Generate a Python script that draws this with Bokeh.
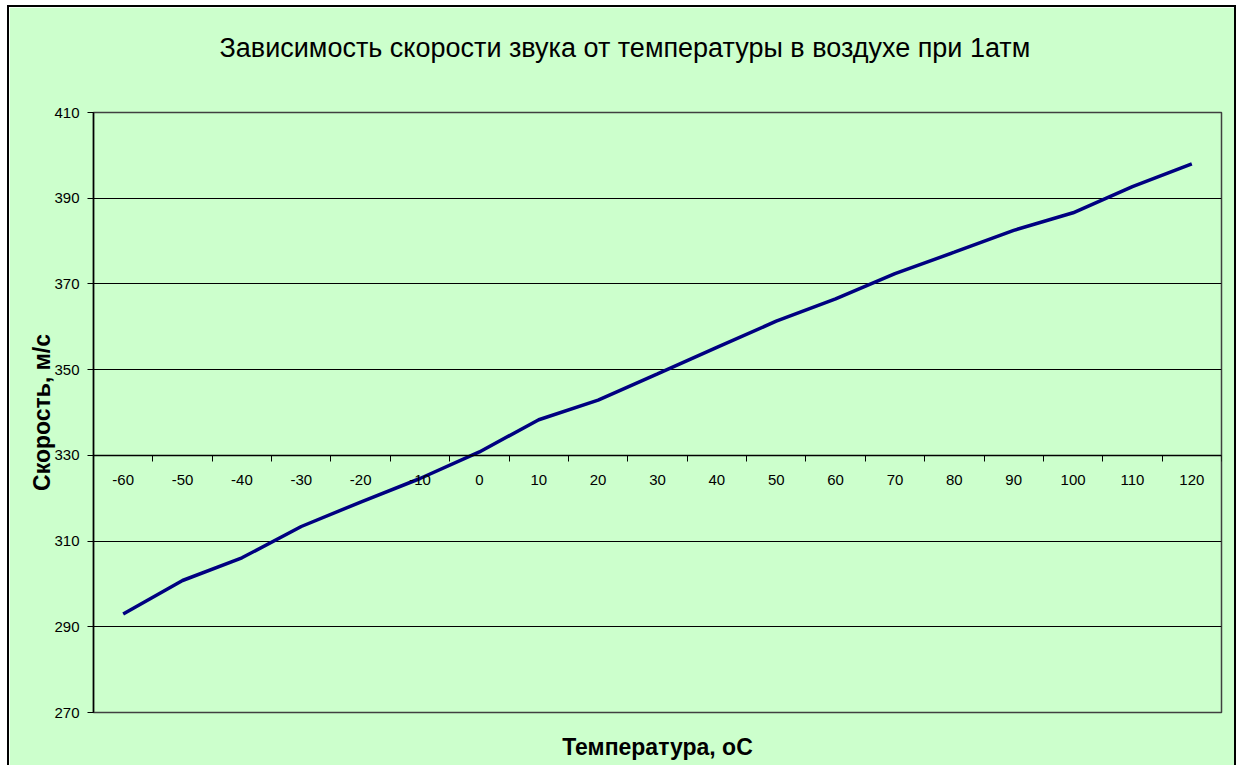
from bokeh.plotting import figure
from bokeh.models import Range1d, LinearAxis, FixedTicker, ColumnDataSource
from bokeh.embed import file_html
from bokeh.resources import INLINE

# ---- data ----
temperatures = [-60, -50, -40, -30, -20, -10, 0, 10, 20, 30, 40, 50, 60, 70, 80, 90, 100, 110, 120]
speed = [293.0, 300.8, 306.1, 313.4, 319.1, 324.6, 330.8, 338.3, 342.9, 349.0, 355.2,
         361.3, 366.5, 372.4, 377.4, 382.5, 386.6, 392.7, 398.0]
y_ticks = [270, 290, 310, 330, 350, 370, 390, 410]
title_text = "Зависимость скорости звука от температуры в воздухе при 1атм"
x_title = "Температура, оС"
y_title = "Скорость, м/с"

FONT = "Liberation Sans"
BG = "#CCFFCC"

n = len(temperatures)
pos = [i + 0.5 for i in range(n)]
src = ColumnDataSource(dict(x=pos, y=speed))

p = figure(width=1229, height=760, output_backend="svg", toolbar_location=None,
           x_range=Range1d(0, n), y_range=Range1d(270, 410),
           min_border_left=84, min_border_right=17, min_border_top=105, min_border_bottom=55,
           background_fill_color=BG, border_fill_color=BG)
p.styles = {"margin-left": "7px", "margin-top": "5px",
            "border-left": "2px solid black", "border-top": "2px solid black",
            "border-right": "2px solid black"}

p.outline_line_color = "#404040"
p.outline_line_width = 1.5

# keep references to the default axes before adding more
xa = p.below[0]
ya = p.left[0]

# invisible spacer axis above the frame, pushes the title upward
spacer = LinearAxis(ticker=FixedTicker(ticks=[0.5]), axis_line_color=None,
                    major_tick_line_color=None, minor_tick_line_color=None,
                    major_tick_out=40, major_tick_in=0, major_label_standoff=0,
                    major_label_text_font_size="1px",
                    major_label_overrides={0.5: ""})
p.add_layout(spacer, "above")

# title
p.title.text = title_text
p.title.align = "left"
p.title.text_font = FONT
p.title.text_font_size = "27px"
p.title.text_font_style = "normal"
p.title.text_color = "#000000"
p.title.offset = 126
p.title.standoff = 20

# grid
p.xgrid.visible = False
p.ygrid.ticker = FixedTicker(ticks=y_ticks)
p.ygrid.grid_line_color = "#000000"
p.ygrid.grid_line_width = 1

# y axis
ya.ticker = FixedTicker(ticks=y_ticks)
ya.axis_line_color = "#000000"
ya.axis_line_width = 1.5
ya.major_tick_line_color = "#000000"
ya.major_tick_out = 6
ya.major_tick_in = 0
ya.minor_tick_line_color = None
ya.major_label_text_font = FONT
ya.major_label_text_font_size = "15px"
ya.major_label_text_color = "#000000"
ya.major_label_standoff = 8
ya.axis_label = y_title
ya.axis_label_text_font = FONT
ya.axis_label_text_font_size = "23px"
ya.axis_label_text_font_style = "bold"
ya.axis_label_text_color = "#000000"
ya.axis_label_standoff = -4

# bottom axis only used for the title
xa.ticker = FixedTicker(ticks=[])
xa.axis_line_color = None
xa.major_tick_line_color = None
xa.minor_tick_line_color = None
xa.major_tick_out = 0
xa.major_label_standoff = 0
xa.axis_label = x_title
xa.axis_label_text_font = FONT
xa.axis_label_text_font_size = "23px"
xa.axis_label_text_font_style = "bold"
xa.axis_label_text_color = "#000000"
xa.axis_label_standoff = 21

# category axis crossing at 330
cat_axis = LinearAxis(fixed_location=330,
                      ticker=FixedTicker(ticks=pos, minor_ticks=list(range(1, n + 1))),
                      major_label_overrides={pp: str(t) for pp, t in zip(pos, temperatures)})
cat_axis.axis_line_color = "#000000"
cat_axis.axis_line_width = 1.5
cat_axis.major_tick_line_color = None
cat_axis.major_tick_out = 0
cat_axis.major_tick_in = 0
cat_axis.minor_tick_line_color = "#000000"
cat_axis.minor_tick_out = 6
cat_axis.minor_tick_in = 0
cat_axis.major_label_text_font = FONT
cat_axis.major_label_text_font_size = "15px"
cat_axis.major_label_text_color = "#000000"
cat_axis.major_label_standoff = 14
p.add_layout(cat_axis, "below")

p.line("x", "y", source=src, line_color="#000080", line_width=3.5)

open("out.html", "w").write(file_html(p, INLINE))
